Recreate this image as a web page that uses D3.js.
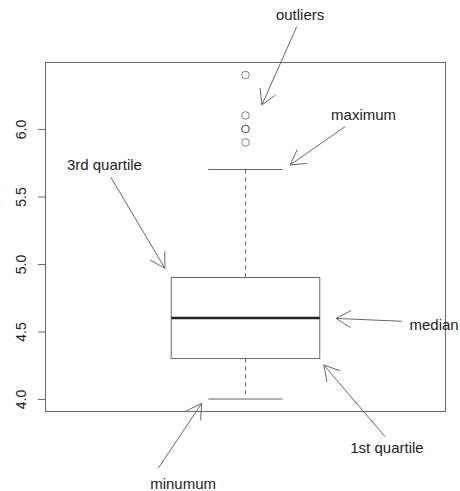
<!DOCTYPE html>
<meta charset="utf-8">
<script src="https://d3js.org/d3.v7.min.js"></script>
<style>
  body { margin: 0; background: #fff; }
  text { font-family: "Liberation Sans", Arial, sans-serif; }
</style>
<div id="my_dataviz"></div>
<script>

// five number summary + outliers
const stats = {min: 4.0, q1: 4.3, median: 4.6, q3: 4.9, max: 5.7};
const outliers = [5.9, 6.0, 6.0, 6.1, 6.4];
const yTicks = [4.0, 4.5, 5.0, 5.5, 6.0];

// annotation labels, text position and arrow (from -> to), in data units
const labels   = ["outliers", "maximum", "3rd quartile", "median", "1st quartile", "minumum"];
const labelX   = [1.147, 1.318, 0.620, 1.508, 1.381, 0.832];
const labelY   = [6.845, 6.104, 5.734, 4.552, 3.637, 3.372];
const arrowX0  = [1.138, 1.268, 0.637, 1.421, 1.376, 0.765];
const arrowY0  = [6.758, 6.017, 5.643, 4.576, 3.721, 3.487];
const arrowX1  = [1.044, 1.120, 0.783, 1.244, 1.211, 0.882];
const arrowY1  = [6.178, 5.734, 4.968, 4.597, 4.252, 3.968];

const margin = {top: 62, right: 14, bottom: 79, left: 45},
    width = 460 - margin.left - margin.right,
    height = 491 - margin.top - margin.bottom;

const svg = d3.select("#my_dataviz")
  .append("svg")
    .attr("width", width + margin.left + margin.right)
    .attr("height", height + margin.top + margin.bottom)
  .append("g")
    .attr("transform", `translate(${margin.left},${margin.top})`);

// R style ranges: data range padded by 4%
const x = d3.scaleLinear().domain([0.46, 1.54]).range([0, width]);
const y = d3.scaleLinear().domain([3.904, 6.496]).range([height, 0]);

const lineCol = "#666";

// y axis with rotated labels
const yAxis = svg.append("g")
  .call(d3.axisLeft(y).tickValues(yTicks).tickFormat(d3.format(".1f")).tickSize(7));
yAxis.select(".domain").remove();
yAxis.selectAll(".tick line").attr("stroke", lineCol);
yAxis.selectAll(".tick text")
  .attr("transform", "rotate(-90)")
  .attr("x", 0)
  .attr("y", -19)
  .attr("dy", null)
  .attr("text-anchor", "middle")
  .attr("font-size", 14)
  .attr("font-family", "Liberation Sans, Arial, sans-serif")
  .attr("fill", "#222");

// frame
svg.append("rect")
  .attr("x", 0.5).attr("y", 0.5)
  .attr("width", width - 1).attr("height", height - 1)
  .attr("fill", "none").attr("stroke", lineCol);

const cx = 1, halfBox = 0.2, halfCap = 0.1;

// whiskers (dashed)
svg.append("line")
  .attr("x1", x(cx)).attr("x2", x(cx))
  .attr("y1", y(stats.q3)).attr("y2", y(stats.max))
  .attr("stroke", lineCol).attr("stroke-dasharray", "4,4");
svg.append("line")
  .attr("x1", x(cx)).attr("x2", x(cx))
  .attr("y1", y(stats.q1)).attr("y2", y(stats.min))
  .attr("stroke", lineCol).attr("stroke-dasharray", "4,4");

// staples
[stats.min, stats.max].forEach(v => {
  svg.append("line")
    .attr("x1", x(cx - halfCap)).attr("x2", x(cx + halfCap))
    .attr("y1", y(v)).attr("y2", y(v))
    .attr("stroke", lineCol);
});

// box
svg.append("rect")
  .attr("x", x(cx - halfBox))
  .attr("y", y(stats.q3))
  .attr("width", x(cx + halfBox) - x(cx - halfBox))
  .attr("height", y(stats.q1) - y(stats.q3))
  .attr("fill", "none").attr("stroke", lineCol);

// median
svg.append("line")
  .attr("x1", x(cx - halfBox)).attr("x2", x(cx + halfBox))
  .attr("y1", y(stats.median)).attr("y2", y(stats.median))
  .attr("stroke", "#222").attr("stroke-width", 2.5);

// outliers
svg.selectAll(".outlier")
  .data(outliers)
  .join("circle")
    .attr("class", "outlier")
    .attr("cx", x(cx))
    .attr("cy", d => y(d))
    .attr("r", 3.8)
    .attr("fill", "none")
    .attr("stroke", "#555")
    .attr("stroke-opacity", 0.75);

// annotations
const notes = labels.map((l, i) => ({
  label: l, tx: labelX[i], ty: labelY[i],
  x0: arrowX0[i], y0: arrowY0[i], x1: arrowX1[i], y1: arrowY1[i]
}));

const headLen = 17, headAng = Math.PI / 6;

notes.forEach(d => {
  const px0 = x(d.x0), py0 = y(d.y0), px1 = x(d.x1), py1 = y(d.y1);
  const a = Math.atan2(py1 - py0, px1 - px0);
  const path = d3.path();
  path.moveTo(px0, py0);
  path.lineTo(px1, py1);
  path.moveTo(px1 - headLen * Math.cos(a - headAng), py1 - headLen * Math.sin(a - headAng));
  path.lineTo(px1, py1);
  path.lineTo(px1 - headLen * Math.cos(a + headAng), py1 - headLen * Math.sin(a + headAng));
  svg.append("path")
    .attr("d", path.toString())
    .attr("fill", "none")
    .attr("stroke", lineCol);

  svg.append("text")
    .attr("x", x(d.tx))
    .attr("y", y(d.ty))
    .attr("dy", "0.35em")
    .attr("text-anchor", "middle")
    .attr("font-size", 15)
    .attr("fill", "#222")
    .text(d.label);
});

</script>
